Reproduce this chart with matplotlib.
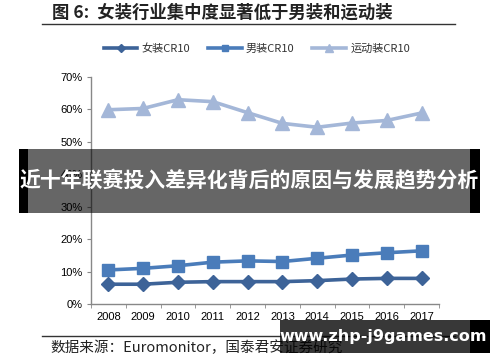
import matplotlib
matplotlib.use("Agg")
import matplotlib.pyplot as plt
from matplotlib.patches import Rectangle
from matplotlib.lines import Line2D

plt.rcParams['font.family'] = ['Noto Sans CJK SC', 'DejaVu Sans']

years = ['2008', '2009', '2010', '2011', '2012', '2013', '2014', '2015', '2016', '2017']
women = [6.1, 6.1, 6.7, 6.9, 6.9, 6.9, 7.2, 7.7, 7.9, 7.9]
men = [10.5, 11.0, 11.8, 12.9, 13.3, 13.1, 14.1, 15.1, 15.8, 16.4]
sport = [59.9, 60.3, 63.0, 62.4, 59.0, 55.7, 54.5, 55.8, 56.6, 58.9]
series_names = ['女装CR10', '男装CR10', '运动装CR10']
yticks = [0, 10, 20, 30, 40, 50, 60, 70]

W, H = 500, 362
fig = plt.figure(figsize=(5, 3.62), dpi=100)
fig.patch.set_facecolor('white')

def fx(px):
    return px / W

def fy(py):
    return 1 - py / H

ax = fig.add_axes([fx(91), fy(304), fx(439) - fx(91), fy(77) - fy(304)])
x = list(range(len(years)))
c_w, c_m, c_s = '#3D6398', '#4A7CBA', '#A4B7D8'
ax.plot(x, sport, color=c_s, lw=2.6, marker='^', ms=10, label=series_names[2], zorder=2)
ax.plot(x, men, color=c_m, lw=2.6, marker='s', ms=9, label=series_names[1], zorder=3)
ax.plot(x, women, color=c_w, lw=2.6, marker='D', ms=7.5, label=series_names[0], zorder=4)

ax.set_xlim(-0.5, len(years) - 0.5)
ax.set_ylim(0, 70)
ax.set_yticks(yticks)
ax.set_yticklabels([f'{v}%' for v in yticks], family='Liberation Sans', fontsize=8)
ax.set_xticks(x)
ax.set_xticklabels(years, family='Liberation Sans', fontsize=8)
ax.set_xticks([i - 0.5 for i in range(len(years) + 1)], minor=True)
ax.tick_params(axis='x', which='major', length=0, pad=6)
ax.tick_params(axis='x', which='minor', length=3, color='#888888')
ax.tick_params(axis='y', length=3, color='#888888', pad=3)
for s in ['top', 'right']:
    ax.spines[s].set_visible(False)
for s in ['left', 'bottom']:
    ax.spines[s].set_color('#888888')
    ax.spines[s].set_linewidth(1)

# title
fig.text(fx(52), fy(13), '图 6:  女装行业集中度显著低于男装和运动装', fontsize=12.5,
         fontweight='bold', color='#222222', va='center', ha='left')
fig.add_artist(Line2D([fx(42), fx(455)], [fy(24), fy(24)], color='#333333', lw=1))

# legend
handles, labels = ax.get_legend_handles_labels()
order = [2, 1, 0]
leg = fig.legend([handles[i] for i in order], [labels[i] for i in order], ncol=3,
                 loc='center', bbox_to_anchor=(fx(257), fy(49)), frameon=False,
                 fontsize=8, handlelength=3.0, columnspacing=1.6, handletextpad=0.4,
                 markerscale=0.55)
for t in leg.get_texts():
    t.set_color('#333333')

# source line
fig.add_artist(Line2D([fx(42), fx(455)], [fy(336), fy(336)], color='#333333', lw=1))
fig.text(fx(50), fy(348), '数据来源：Euromonitor，国泰君安证券研究', fontsize=10.5,
         color='#222222', va='center', ha='left')

# banner overlay
fig.add_artist(Rectangle((fx(19), fy(213)), fx(28) - fx(19), fy(149) - fy(213),
                         transform=fig.transFigure, facecolor='black', edgecolor='none', zorder=10))
fig.add_artist(Rectangle((fx(470), fy(213)), fx(480) - fx(470), fy(149) - fy(213),
                         transform=fig.transFigure, facecolor='black', edgecolor='none', zorder=10))
fig.add_artist(Rectangle((fx(28), fy(213)), fx(470) - fx(28), fy(149) - fy(213),
                         transform=fig.transFigure, facecolor='black', alpha=0.6,
                         edgecolor='none', zorder=11))
fig.text(fx(249), fy(181), '近十年联赛投入差异化背后的原因与发展趋势分析', fontsize=15,
         fontweight='bold', color='white', ha='center', va='center', zorder=12)

# watermark box
fig.add_artist(Rectangle((fx(470), fy(353)), fx(490) - fx(470), fy(320) - fy(353),
                         transform=fig.transFigure, facecolor='black', edgecolor='none', zorder=10))
fig.add_artist(Rectangle((fx(280), fy(353)), fx(470) - fx(280), fy(320) - fy(353),
                         transform=fig.transFigure, facecolor='black', alpha=0.78,
                         edgecolor='none', zorder=11))
fig.text(fx(383), fy(336), 'www.zhp-j9games.com', fontsize=11.5, fontweight='bold',
         color='white', ha='center', va='center', zorder=12, family='DejaVu Sans')

fig.savefig('out.png', dpi=100)
